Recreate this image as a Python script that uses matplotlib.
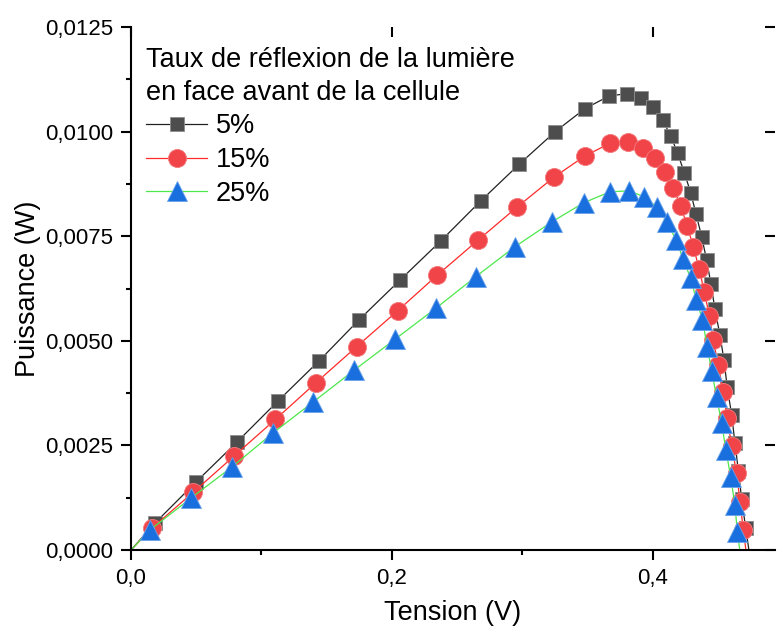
import numpy as np
import matplotlib
matplotlib.use("Agg")
import matplotlib.pyplot as plt
from matplotlib.ticker import FuncFormatter, MultipleLocator

plt.rcParams['font.family'] = ['Liberation Sans', 'DejaVu Sans']

## Data (V in volts, P in mW)
# each series starts at the origin and ends on the axis (no marker there)

v_5 = [0.0, 0.0184, 0.0498, 0.0812, 0.1126, 0.1441, 0.1747, 0.2061, 0.2375, 0.2679,
       0.2975, 0.3251, 0.3479, 0.3663, 0.3803, 0.3906, 0.3998, 0.4074, 0.4136, 0.4189,
       0.4240, 0.4289, 0.4330, 0.4373, 0.4411, 0.4444, 0.4475, 0.4513, 0.4544, 0.4569,
       0.4603, 0.4628, 0.4654, 0.4680, 0.4710, 0.4735]
p_5 = [0.0, 0.645, 1.625, 2.58, 3.56, 4.52, 5.50, 6.45, 7.39, 8.34,
       9.22, 10.0, 10.55, 10.85, 10.91, 10.81, 10.59, 10.27, 9.90, 9.48,
       9.02, 8.54, 8.03, 7.49, 6.93, 6.36, 5.75, 5.14, 4.54, 3.89,
       3.23, 2.56, 1.895, 1.21, 0.53, 0.0]

v_15 = [0.0, 0.0159, 0.0477, 0.0791, 0.1106, 0.1418, 0.1729, 0.2044, 0.2347, 0.2661,
        0.2960, 0.3241, 0.3479, 0.3670, 0.3811, 0.3926, 0.4015, 0.4092, 0.4156, 0.4212,
        0.4263, 0.4309, 0.4355, 0.4393, 0.4432, 0.4462, 0.4500, 0.4539, 0.4569, 0.4603,
        0.4641, 0.4667, 0.4692, 0.4712]
p_15 = [0.0, 0.52, 1.38, 2.25, 3.12, 4.00, 4.86, 5.72, 6.57, 7.41,
        8.20, 8.91, 9.42, 9.72, 9.74, 9.61, 9.36, 9.04, 8.66, 8.22,
        7.74, 7.25, 6.71, 6.17, 5.60, 5.02, 4.42, 3.78, 3.15, 2.49,
        1.83, 1.155, 0.48, 0.0]

v_25 = [0.0, 0.0146, 0.0457, 0.0776, 0.1085, 0.1397, 0.1711, 0.2025, 0.2337, 0.2641,
        0.2943, 0.3229, 0.3470, 0.3670, 0.3818, 0.3933, 0.4028, 0.4105, 0.4176, 0.4232,
        0.4289, 0.4333, 0.4379, 0.4416, 0.4449, 0.4488, 0.4526, 0.4559, 0.4595, 0.4628,
        0.4646, 0.4665]
p_25 = [0.0, 0.48, 1.235, 1.99, 2.79, 3.54, 4.30, 5.04, 5.78, 6.53,
        7.25, 7.85, 8.30, 8.56, 8.585, 8.44, 8.20, 7.845, 7.42, 6.95,
        6.49, 5.97, 5.50, 4.86, 4.28, 3.66, 3.03, 2.39, 1.75, 1.075,
        0.44, 0.0]

labels = ["5%", "15%", "25%"]
legend_title = "Taux de réflexion de la lumière\nen face avant de la cellule"
x_label = "Tension (V)"
y_label = "Puissance (W)"

series = [(v_5, p_5), (v_15, p_15), (v_25, p_25)]
styles = [
    dict(color="#222222", marker="s", ms=10.5, mfc="#4d4d4d", mec="#8c8c8c"),
    dict(color="#ff2a2a", marker="o", ms=13, mfc="#f04448", mec="#f47a7c"),
    dict(color="#4ce84c", marker="^", ms=14, mfc="#1a6fdf", mec="#6aa2ea"),
]


fig = plt.figure(figsize=(7.78, 6.33), dpi=100)
ax = fig.add_axes([131 / 778, 83 / 633, 644 / 778, 523 / 633])

for (v, p), lab, st in zip(series, labels, styles):
    v = np.asarray(v)
    p = np.asarray(p) / 1000.0  # mW -> W
    ax.plot(v, p, ls="-", lw=0.9, mew=0.6, label=lab,
            markevery=list(range(1, len(v) - 1)), **st)

ax.set_xlim(0, 0.4935)
ax.set_ylim(0, 0.0125)

ax.xaxis.set_major_locator(MultipleLocator(0.2))
ax.xaxis.set_minor_locator(MultipleLocator(0.1))
ax.yaxis.set_major_locator(MultipleLocator(0.0025))
ax.yaxis.set_minor_locator(MultipleLocator(0.00125))
ax.xaxis.set_major_formatter(FuncFormatter(lambda v, pos: f"{v:.1f}".replace(".", ",")))
ax.yaxis.set_major_formatter(FuncFormatter(lambda v, pos: f"{v:.4f}".replace(".", ",")))

# Origin style: left/bottom axes with outward ticks, only inward ticks on top/right
for side in ("top", "right"):
    ax.spines[side].set_visible(False)
for side in ("left", "bottom"):
    ax.spines[side].set_linewidth(1.5)

ax.tick_params(which="major", direction="out", length=7, width=1.5,
               labelsize=16, pad=6, top=False, right=False)
ax.tick_params(which="minor", direction="out", length=3.5, width=1.5,
               top=False, right=False)

sec_x = ax.secondary_xaxis("top")
sec_x.xaxis.set_major_locator(MultipleLocator(0.2))
sec_x.tick_params(direction="in", length=7, width=1.5, labeltop=False)
sec_x.spines["top"].set_visible(False)
sec_y = ax.secondary_yaxis("right")
sec_y.yaxis.set_major_locator(MultipleLocator(0.0025))
sec_y.tick_params(direction="in", length=7, width=1.5, labelright=False)
sec_y.spines["right"].set_visible(False)

ax.set_xlabel(x_label, fontsize=19.5, labelpad=8)
ax.set_ylabel(y_label, fontsize=19.5, labelpad=3)

leg = ax.legend(title=legend_title, loc="upper left", bbox_to_anchor=(0.024, 0.962),
                frameon=False, fontsize=19.5, title_fontsize=19.5, alignment="left",
                handlelength=2.25, handletextpad=0.3, labelspacing=0.28,
                borderpad=0, borderaxespad=0)
leg.get_title().set_multialignment("left")
leg.get_title().set_linespacing(1.35)

fig.savefig("out.png", dpi=100)
